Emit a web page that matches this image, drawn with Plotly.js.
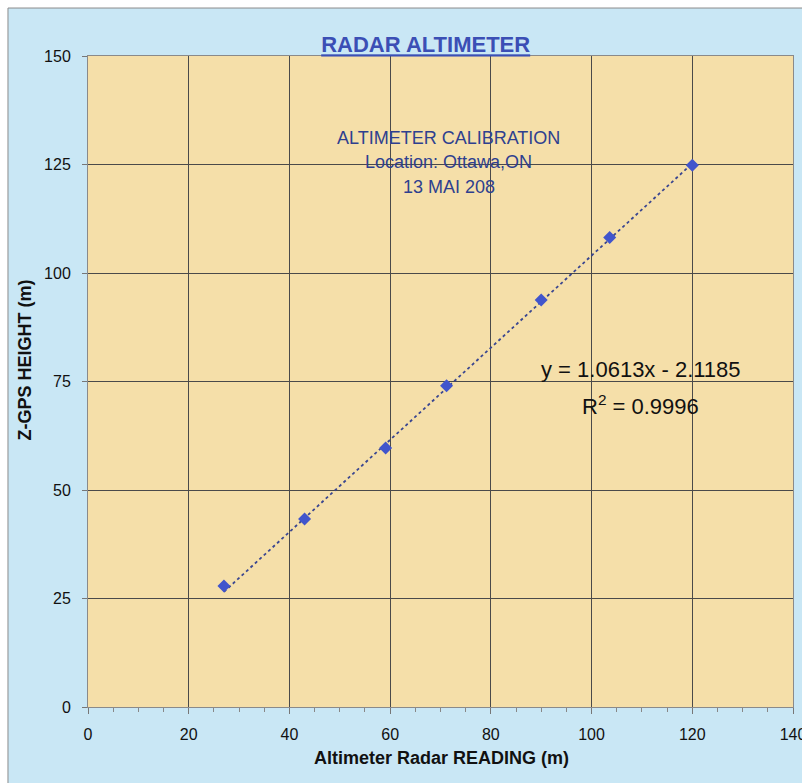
<!DOCTYPE html>
<html>
<head>
<meta charset="utf-8">
<script src="https://cdn.plot.ly/plotly-3.0.1.min.js"></script>
<style>
  html, body { margin: 0; padding: 0; background: #ffffff; }
  #chart { width: 802px; height: 783px; }
</style>
</head>
<body>
<div id="chart"></div>
<script>
// Radar altimeter reading vs Z-GPS height (m)
const radarReading = [27.0, 43.0, 59.1, 71.2, 90.0, 103.6, 120.0];
const gpsHeight    = [27.9, 43.3, 59.7, 74.0, 93.8, 108.2, 124.8];

// Linear fit reported on the chart
const fitSlope = 1.0613;
const fitIntercept = -2.1185;
const fitR2 = 0.9996;

const xTicks = [0, 20, 40, 60, 80, 100, 120, 140];
const yTicks = [0, 25, 50, 75, 100, 125, 150];

const infoLines = ['ALTIMETER CALIBRATION', 'Location: Ottawa,ON', '13 MAI 208'];

// Trendline endpoints from the fit over the measured range
const fitX = [Math.min(...radarReading), Math.max(...radarReading)];
const fitY = fitX.map(x => fitSlope * x + fitIntercept);

const FONT = 'Arial, "Liberation Sans", sans-serif';
const BLUE_BG = '#c9e7f5';
const TAN_BG = '#f5dfa9';

const traces = [
  {
    x: fitX, y: fitY, type: 'scatter', mode: 'lines',
    line: { color: '#3a4690', width: 1.8, dash: 'dot' },
    hoverinfo: 'skip', showlegend: false
  },
  {
    x: radarReading, y: gpsHeight, type: 'scatter', mode: 'markers',
    marker: { symbol: 'diamond', size: 10, color: '#4155cc' },
    showlegend: false
  }
];

const infoY = [0.874, 0.837, 0.799];
const annotations = infoLines.map((t, i) => ({
  text: t, xref: 'paper', yref: 'paper', x: 0.512, y: infoY[i],
  showarrow: false, xanchor: 'center', yanchor: 'middle',
  font: { family: FONT, size: 18, color: '#2e3f8f' }
}));

const sign = fitIntercept < 0 ? ' - ' : ' + ';
annotations.push(
  {
    text: 'y = ' + fitSlope.toFixed(4) + 'x' + sign + Math.abs(fitIntercept).toFixed(4),
    xref: 'paper', yref: 'paper', x: 0.784, y: 0.5177, showarrow: false,
    xanchor: 'center', yanchor: 'middle',
    font: { family: FONT, size: 22, color: '#111111' }
  },
  {
    text: 'R<sup>2</sup> = ' + fitR2.toFixed(4),
    xref: 'paper', yref: 'paper', x: 0.784, y: 0.4639, showarrow: false,
    xanchor: 'center', yanchor: 'middle',
    font: { family: FONT, size: 22, color: '#111111' }
  },
  {
    text: '<b>Altimeter Radar READING (m)</b>',
    xref: 'paper', yref: 'paper', x: 0.502, y: -0.078, showarrow: false,
    xanchor: 'center', yanchor: 'middle',
    font: { family: FONT, size: 18, color: '#111111' }
  },
  {
    text: '<b>Z-GPS HEIGHT (m)</b>', textangle: -90,
    xref: 'paper', yref: 'paper', x: -0.09, y: 0.533, showarrow: false,
    xanchor: 'center', yanchor: 'middle',
    font: { family: FONT, size: 18, color: '#111111' }
  }
);

const layout = {
  width: 802, height: 783, autosize: false,
  margin: { l: 88, r: 9, t: 56, b: 76, pad: 0 },
  paper_bgcolor: BLUE_BG,
  plot_bgcolor: TAN_BG,
  showlegend: false,
  title: {
    text: '<b><u>RADAR ALTIMETER</u></b>',
    xref: 'paper', x: 0.479, xanchor: 'center',
    yref: 'container', y: 0.943, yanchor: 'middle',
    font: { family: FONT, size: 22, color: '#3b4fb5' }
  },
  xaxis: {
    range: [0, 140], tickvals: xTicks, ticktext: xTicks.map(String),
    showgrid: true, gridcolor: '#4a4a4a', gridwidth: 1,
    zeroline: false, showline: true, linecolor: '#8a8a8a', linewidth: 1, mirror: true,
    ticks: 'outside', ticklen: 6, tickcolor: '#777777', ticklabelstandoff: 7,
    ticklabeloverflow: 'allow',
    minor: { dtick: 5, ticks: 'outside', ticklen: 4, tickcolor: '#888888', showgrid: false },
    tickfont: { family: FONT, size: 16, color: '#111111' },
    fixedrange: true
  },
  yaxis: {
    range: [0, 150], tickvals: yTicks, ticktext: yTicks.map(String),
    showgrid: true, gridcolor: '#4a4a4a', gridwidth: 1,
    zeroline: false, showline: true, linecolor: '#8a8a8a', linewidth: 1, mirror: true,
    ticks: 'outside', ticklen: 5, tickcolor: '#777777', ticklabelstandoff: 8,
    tickfont: { family: FONT, size: 16, color: '#111111' },
    fixedrange: true
  },
  shapes: [
    // white margin strips and the thin frame around the chart area
    { type: 'rect', xref: 'paper', yref: 'paper', x0: -0.2, x1: 1.2, y0: 1.0737, y1: 1.2,
      fillcolor: '#ffffff', line: { width: 0 } },
    { type: 'rect', xref: 'paper', yref: 'paper', x0: -0.2, x1: -0.1135, y0: -0.2, y1: 1.2,
      fillcolor: '#ffffff', line: { width: 0 } },
    { type: 'line', xref: 'paper', yref: 'paper', x0: -0.1135, x1: 1.2, y0: 1.0737, y1: 1.0737,
      line: { color: '#8c8c8c', width: 1 } },
    { type: 'line', xref: 'paper', yref: 'paper', x0: -0.1135, x1: -0.1135, y0: -0.2, y1: 1.0737,
      line: { color: '#8c8c8c', width: 1 } }
  ],
  annotations: annotations
};

Plotly.newPlot('chart', traces, layout, { displayModeBar: false, staticPlot: true });
</script>
</body>
</html>
